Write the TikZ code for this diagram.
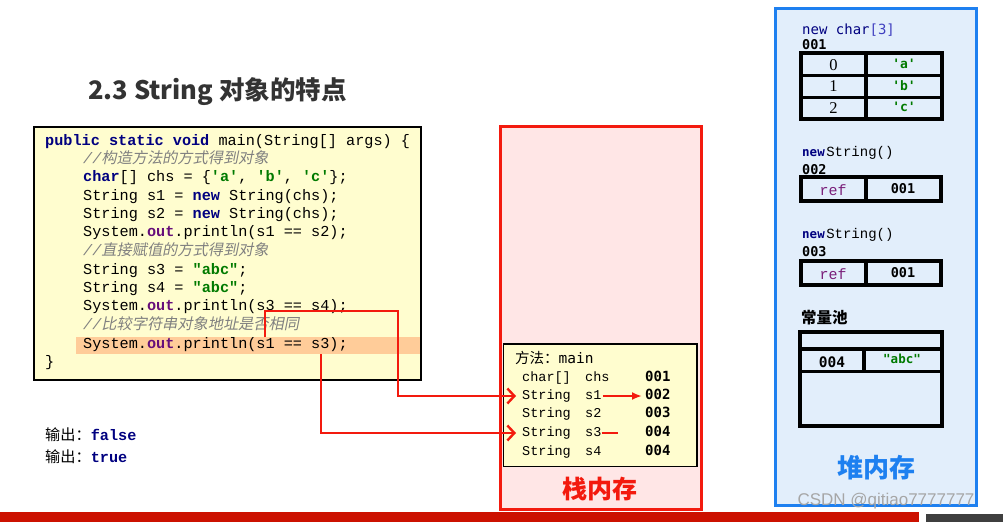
\documentclass[tikz,border=0pt]{standalone}
\usepackage{fontspec}
\setmainfont{Liberation Serif}
\setmonofont{Liberation Mono}
\newfontfamily\cjk{Noto Sans CJK SC}
\newfontfamily\cjkit[FakeSlant=0.2]{Noto Sans CJK SC}
\newfontfamily\consol{DejaVu Sans Mono}
\newfontfamily\wmfont{Liberation Sans}
\usetikzlibrary{arrows.meta}
\usetikzlibrary{calc}
\usetikzlibrary{positioning}
\definecolor{kwblue}{HTML}{000080}
\definecolor{strgreen}{HTML}{007A00}
\definecolor{outpurple}{HTML}{660E7A}
\definecolor{cmtgray}{HTML}{808080}
\definecolor{codebg}{HTML}{FFFDCF}
\definecolor{hlorange}{HTML}{FFCC99}
\definecolor{stackred}{HTML}{F31A0E}
\definecolor{stackbg}{HTML}{FFE6E6}
\definecolor{heapblue}{HTML}{1E80F0}
\definecolor{heapbg}{HTML}{E2EEFB}
\definecolor{idxblue}{HTML}{4040C0}
\definecolor{titlegray}{HTML}{333333}
\definecolor{refpurple}{HTML}{7A1F7A}
\definecolor{barred}{HTML}{CC1100}
\definecolor{bargray}{HTML}{3F3F3F}

\newcommand{\kw}[1]{{\bfseries\color{kwblue}#1}}
\newcommand{\strlit}[1]{{\bfseries\color{strgreen}#1}}
\newcommand{\outfld}[1]{{\bfseries\color{outpurple}#1}}
\newcommand{\cmt}[1]{{\color{cmtgray}\itshape//\cjkit #1}}

\begin{document}
\begin{tikzpicture}[
		x=1pt, y=-1pt,
		code/.style={anchor=west, inner sep=0pt, text height=10.5pt, text depth=3.5pt,
				font=\ttfamily\fontsize{15.2}{18}\selectfont},
		rowtype/.style={anchor=west, inner sep=0pt, text height=10pt, text depth=3pt,
				font=\ttfamily\fontsize{13.5}{16}\selectfont},
		rowval/.style={anchor=west, inner sep=0pt, text height=10pt, text depth=3pt,
				font=\consol\bfseries\fontsize{14}{16}\selectfont},
		addr/.style={anchor=west, inner sep=0pt, font=\consol\bfseries\fontsize{13.5}{15}\selectfont},
		cell/.style={inner sep=0pt, font=\consol\bfseries\fontsize{13.5}{15}\selectfont},
		link/.style={stackred, line width=2.4pt, shorten >=6pt,
				-{Straight Barb[length=7pt, width=15pt, line width=2.4pt]}},
		tbl/.style={line width=3.2pt}
	]
	\useasboundingbox (0,0) rectangle (1003,522);

	% --- Title ---
	\node[anchor=west, inner sep=0pt, text=titlegray, font=\cjk\bfseries\fontsize{25.5}{30}\selectfont]
	(title) at (88,92) {2.3 String 对象的特点};

	% --- Code on the left ---
	\draw[fill=codebg, line width=1.5pt] (34,127) rectangle (421,380);
	\fill[hlorange] (76,337) rectangle (420,353.5);
	\node[code] (l1) at (45,141.7) {\kw{public static void} main(String[] args) \{};
	\node[code] (l2) at (83,160) {\cmt{构造方法的方式得到对象}};
	\node[code] (l3) at (83,178.3) {\kw{char}[] chs = \{\strlit{'a'}, \strlit{'b'}, \strlit{'c'}\};};
	\node[code] (l4) at (83,196.7) {String s1 = \kw{new} String(chs);};
	\node[code] (l5) at (83,215) {String s2 = \kw{new} String(chs);};
	\node[code] (l6) at (83,233.3) {System.\outfld{out}.println(s1 == s2);};
	\node[code] (l7) at (83,252.3) {\cmt{直接赋值的方式得到对象}};
	\node[code] (l8) at (83,270.7) {String s3 = \strlit{"abc"};};
	\node[code] (l9) at (83,289) {String s4 = \strlit{"abc"};};
	\node[code] (l10) at (83,307.3) {System.\outfld{out}.println(s3 == s4);};
	\node[code] (l11) at (83,326) {\cmt{比较字符串对象地址是否相同}};
	\node[code] (l12) at (83,344.5) {System.\outfld{out}.println(s1 == s3);};
	\node[code] (l13) at (45,363.3) {\}};

	% --- Output ---
	\node[code] (out1) at (45,437) {\cjk 输出：\ttfamily\kw{false}};
	\node[code] (out2) at (45,459) {\cjk 输出：\ttfamily\kw{true}};

	% --- Stack ---
	\draw[stackred, fill=stackbg, line width=3pt] (500,126) rectangle (701,509);
	\draw[fill=codebg, line width=1.5pt] (503.5,344) rectangle (697,466.5);
	\node[anchor=west, inner sep=0pt, font=\fontsize{14.5}{16}\selectfont]
	(method) at (515,358) {\cjk 方法：\consol main};
	\node[rowtype] (tchs) at (522,378) {char[]};
	\node[rowtype] (nchs) at (585,378) {chs};
	\node[rowval] (vchs) at (645,378) {001};
	\node[rowtype] (tsone) at (522,396) {String};
	\node[rowtype] (nsone) at (585,396) {s1};
	\node[rowval] (vsone) at (645,396) {002};
	\node[rowtype] (tstwo) at (522,414.3) {String};
	\node[rowtype] (nstwo) at (585,414.3) {s2};
	\node[rowval] (vstwo) at (645,414.3) {003};
	\node[rowtype] (tsthree) at (522,433) {String};
	\node[rowtype] (nsthree) at (585,433) {s3};
	\node[rowval] (vsthree) at (645,433) {004};
	\node[rowtype] (tsfour) at (522,451.7) {String};
	\node[rowtype] (nsfour) at (585,451.7) {s4};
	\node[rowval] (vsfour) at (645,451.7) {004};
	\node[text=stackred, font=\cjk\bfseries\fontsize{25}{28}\selectfont]
	(stacklbl) at (600,489) {栈内存};

	% --- Heap ---
	\draw[heapblue, fill=heapbg, line width=3pt] (775,8) rectangle (976,505);
	\node[anchor=west, inner sep=0pt, font=\consol\fontsize{14}{16}\selectfont]
	(newchar) at (802,30) {\color{kwblue}new char\color{idxblue}[3]};
	\node[addr] (achar) at (802,44.5) {001};
	\draw[tbl] (801,53) rectangle (942,119);
	\draw[tbl] (801,75.5) -- (942,75.5);
	\draw[tbl] (801,97.5) -- (942,97.5);
	\draw[tbl] (866,53) -- (866,119);
	\node[font=\fontsize{16.5}{18}\selectfont, inner sep=0pt] (izero) at (833.5,65) {0};
	\node[font=\fontsize{16.5}{18}\selectfont, inner sep=0pt] (ione) at (833.5,86.5) {1};
	\node[font=\fontsize{16.5}{18}\selectfont, inner sep=0pt] (itwo) at (833.5,108) {2};
	\node[cell, text=strgreen, font=\consol\bfseries\fontsize{13}{14}\selectfont] (ca) at (904,64) {'a'};
	\node[cell, text=strgreen, font=\consol\bfseries\fontsize{13}{14}\selectfont] (cb) at (904,85.5) {'b'};
	\node[cell, text=strgreen, font=\consol\bfseries\fontsize{13}{14}\selectfont] (cc) at (904,107) {'c'};

	\node[anchor=west, inner sep=0pt] (newstra) at (802,153)
	{\consol\bfseries\fontsize{12.5}{14}\selectfont\color{kwblue}new\hspace{1.5pt}\ttfamily\mdseries\fontsize{14}{16}\selectfont\color{black}String()};
	\node[addr] (astra) at (802,169.5) {002};
	\draw[tbl] (801,177) rectangle (941,201);
	\draw[tbl] (866,177) -- (866,201);
	\node[text=refpurple, font=\ttfamily\fontsize{15}{16}\selectfont, inner sep=0pt] (refa) at (833,190) {ref};
	\node[cell] (pa) at (903,189) {001};

	\node[anchor=west, inner sep=0pt] (newstrb) at (802,235)
	{\consol\bfseries\fontsize{12.5}{14}\selectfont\color{kwblue}new\hspace{1.5pt}\ttfamily\mdseries\fontsize{14}{16}\selectfont\color{black}String()};
	\node[addr] (astrb) at (802,252) {003};
	\draw[tbl] (801,261) rectangle (941,285);
	\draw[tbl] (866,261) -- (866,285);
	\node[text=refpurple, font=\ttfamily\fontsize{15}{16}\selectfont, inner sep=0pt] (refb) at (833,274) {ref};
	\node[cell] (pb) at (903,273) {001};

	\node[anchor=west, inner sep=0pt, font=\cjk\bfseries\fontsize{15.5}{18}\selectfont] (pool) at (801,318) {常量池};
	\draw[tbl] (800,332) rectangle (942,426);
	\draw[tbl] (800,349) -- (942,349);
	\draw[tbl] (800,371.5) -- (942,371.5);
	\draw[tbl] (864,349) -- (864,371.5);
	\node[cell, font=\consol\bfseries\fontsize{14.5}{16}\selectfont] (apool) at (832,362) {004};
	\node[cell, text=strgreen, font=\consol\bfseries\fontsize{12.5}{14}\selectfont] (spool) at (902,359) {\char34 abc\char34};
	\node[text=heapblue, font=\cjk\bfseries\fontsize{26}{28}\selectfont]
	(heaplbl) at (876,468) {堆内存};

	% --- References ---
	\coordinate (sone) at (265,337);
	\coordinate (sthree) at (321,354);
	\coordinate (bend) at (398,311);
	\draw[link] (sone) |- (bend) |- (tsone.west);
	\draw[link] (sthree) |- (tsthree.west);
	\draw[stackred, line width=2pt, shorten <=1pt, shorten >=3pt, -{Latex[length=10pt, width=8pt]}]
	(nsone.east) -- (vsone.west);
	\draw[stackred, line width=2pt] (nsthree.east) -- ++(16,0);

	% --- Footer ---
	\node[text=gray!70, font=\wmfont\fontsize{17}{20}\selectfont, inner sep=0pt] (mark) at (886,501) {CSDN @qitiao7777777};
	\fill[barred] (0,512) rectangle (919,522);
	\fill[bargray] (926,514) rectangle (1003,522);

\end{tikzpicture}
\end{document}
